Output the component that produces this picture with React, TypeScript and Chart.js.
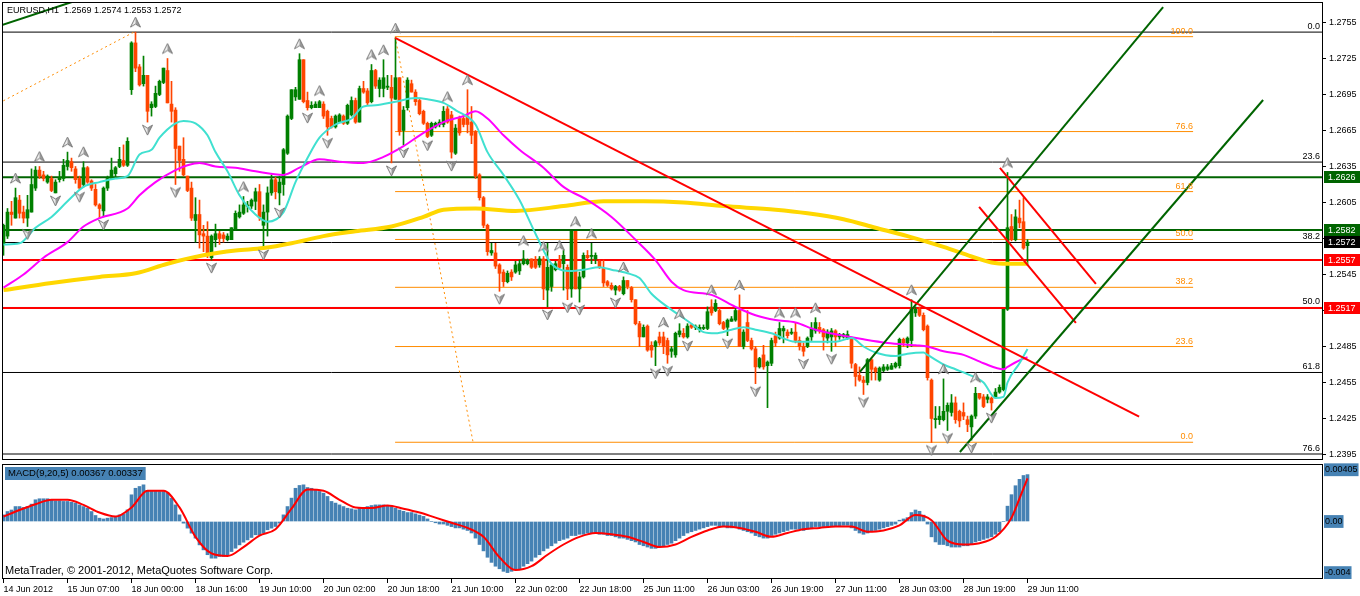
import { useEffect, useRef } from 'react';
import { Chart, registerables } from 'chart.js';

Chart.register(...registerables);

// ---------------- data ----------------
const SYMBOL = 'EURUSD,H1';
const COPYRIGHT = 'MetaTrader, \u00a9 2001-2012, MetaQuotes Software Corp.';
const MACD_NAME = 'MACD(9,20,5)';

const timeLabels = [
  '14 Jun 2012', '15 Jun 07:00', '18 Jun 00:00', '18 Jun 16:00', '19 Jun 10:00', '20 Jun 02:00',
  '20 Jun 18:00', '21 Jun 10:00', '22 Jun 02:00', '22 Jun 18:00', '25 Jun 11:00', '26 Jun 03:00',
  '26 Jun 19:00', '27 Jun 11:00', '28 Jun 03:00', '28 Jun 19:00', '29 Jun 11:00',
];
const LABEL_STEP = 16; // bars between time labels

const opens = [
  1.2570, 1.2577, 1.2597, 1.2592, 1.2607, 1.2597, 1.2592, 1.2597, 1.2617, 1.2632, 1.2628, 1.2622, 1.2625, 1.2613, 1.2624, 1.2625,
  1.2635, 1.2639, 1.2633, 1.2625, 1.2620, 1.2634, 1.2623, 1.2616, 1.2603, 1.2598, 1.2617, 1.2625, 1.2629, 1.2635, 1.2640, 1.2636,
  1.2699, 1.2738, 1.2718, 1.2704, 1.2711, 1.2684, 1.2685, 1.2695, 1.2705, 1.2715, 1.2687, 1.2682, 1.2652, 1.2641, 1.2627, 1.2617,
  1.2590, 1.2595, 1.2579, 1.2577, 1.2559, 1.2574, 1.2579, 1.2578, 1.2574, 1.2574, 1.2583, 1.2593, 1.2596, 1.2602, 1.2602, 1.2606,
  1.2614, 1.2586, 1.2597, 1.2613, 1.2624, 1.2613, 1.2620, 1.2646, 1.2675, 1.2693, 1.2691, 1.2724, 1.2690, 1.2684, 1.2684, 1.2684,
  1.2687, 1.2681, 1.2675, 1.2668, 1.2672, 1.2677, 1.2671, 1.2678, 1.2690, 1.2672, 1.2700, 1.2698, 1.2689, 1.2715, 1.2700, 1.2700,
  1.2701, 1.2701, 1.2691, 1.2709, 1.2665, 1.2684, 1.2704, 1.2697, 1.2690, 1.2681, 1.2671, 1.2661, 1.2668, 1.2670, 1.2670, 1.2683,
  1.2678, 1.2646, 1.2675, 1.2675, 1.2677, 1.2672, 1.2664, 1.2628, 1.2609, 1.2586, 1.2563, 1.2563, 1.2553, 1.2547, 1.2539, 1.2547,
  1.2547, 1.2548, 1.2554, 1.2554, 1.2558, 1.2557, 1.2553, 1.2558, 1.2532, 1.2535, 1.2549, 1.2557, 1.2554, 1.2551, 1.2533, 1.2581,
  1.2533, 1.2543, 1.2561, 1.2560, 1.2558, 1.2556, 1.2550, 1.2539, 1.2536, 1.2532, 1.2535, 1.2529, 1.2540, 1.2534, 1.2524, 1.2504,
  1.2493, 1.2502, 1.2486, 1.2485, 1.2493, 1.2493, 1.2490, 1.2481, 1.2478, 1.2495, 1.2496, 1.2493, 1.2503, 1.2501, 1.2499, 1.2500,
  1.2500, 1.2518, 1.2515, 1.2515, 1.2505, 1.2501, 1.2506, 1.2507, 1.2515, 1.2485, 1.2505, 1.2490, 1.2483, 1.2468, 1.2478, 1.2469,
  1.2471, 1.2494, 1.2492, 1.2498, 1.2497, 1.2496, 1.2497, 1.2490, 1.2485, 1.2485, 1.2493, 1.2498, 1.2501, 1.2499, 1.2492, 1.2493,
  1.2498, 1.2493, 1.2493, 1.2492, 1.2492, 1.2470, 1.2461, 1.2457, 1.2455, 1.2474, 1.2467, 1.2457, 1.2465, 1.2466, 1.2466, 1.2468,
  1.2469, 1.2491, 1.2488, 1.2490, 1.2513, 1.2516, 1.2511, 1.2502, 1.2457, 1.2424, 1.2424, 1.2424, 1.2431, 1.2430, 1.2438, 1.2431,
  1.2430, 1.2424, 1.2418, 1.2427, 1.2446, 1.2443, 1.2441, 1.2442, 1.2443, 1.2447, 1.2449, 1.2516, 1.2585, 1.2574, 1.2592, 1.2589,
  1.2569,
];
const highs = [
  1.2587, 1.2600, 1.2606, 1.2617, 1.2611, 1.2602, 1.2611, 1.2633, 1.2635, 1.2635, 1.2631, 1.2628, 1.2627, 1.2624, 1.2631, 1.2641,
  1.2647, 1.2642, 1.2635, 1.2627, 1.2639, 1.2635, 1.2624, 1.2620, 1.2604, 1.2618, 1.2627, 1.2642, 1.2635, 1.2651, 1.2653, 1.2659,
  1.2739, 1.2747, 1.2720, 1.2727, 1.2711, 1.2689, 1.2702, 1.2707, 1.2717, 1.2725, 1.2706, 1.2684, 1.2652, 1.2659, 1.2627, 1.2622,
  1.2609, 1.2607, 1.2586, 1.2589, 1.2578, 1.2587, 1.2581, 1.2580, 1.2579, 1.2584, 1.2598, 1.2603, 1.2610, 1.2606, 1.2608, 1.2617,
  1.2620, 1.2603, 1.2618, 1.2628, 1.2626, 1.2627, 1.2650, 1.2678, 1.2699, 1.2701, 1.2729, 1.2724, 1.2697, 1.2689, 1.2689, 1.2690,
  1.2689, 1.2682, 1.2677, 1.2678, 1.2679, 1.2678, 1.2687, 1.2693, 1.2692, 1.2702, 1.2706, 1.2700, 1.2720, 1.2716, 1.2709, 1.2724,
  1.2711, 1.2711, 1.2742, 1.2709, 1.2685, 1.2709, 1.2707, 1.2699, 1.2692, 1.2682, 1.2672, 1.2672, 1.2672, 1.2674, 1.2685, 1.2685,
  1.2681, 1.2670, 1.2677, 1.2678, 1.2699, 1.2685, 1.2665, 1.2629, 1.2610, 1.2587, 1.2571, 1.2571, 1.2554, 1.2549, 1.2548, 1.2549,
  1.2556, 1.2557, 1.2565, 1.2558, 1.2558, 1.2560, 1.2560, 1.2560, 1.2571, 1.2554, 1.2556, 1.2561, 1.2565, 1.2553, 1.2581, 1.2581,
  1.2547, 1.2563, 1.2565, 1.2571, 1.2563, 1.2557, 1.2557, 1.2540, 1.2538, 1.2536, 1.2536, 1.2543, 1.2540, 1.2535, 1.2524, 1.2506,
  1.2503, 1.2503, 1.2489, 1.2490, 1.2497, 1.2497, 1.2492, 1.2485, 1.2497, 1.2504, 1.2500, 1.2504, 1.2504, 1.2503, 1.2503, 1.2503,
  1.2518, 1.2524, 1.2524, 1.2517, 1.2506, 1.2508, 1.2510, 1.2517, 1.2528, 1.2499, 1.2515, 1.2492, 1.2485, 1.2476, 1.2486, 1.2473,
  1.2492, 1.2497, 1.2505, 1.2502, 1.2499, 1.2500, 1.2505, 1.2493, 1.2488, 1.2493, 1.2505, 1.2509, 1.2505, 1.2500, 1.2499, 1.2500,
  1.2499, 1.2496, 1.2496, 1.2498, 1.2493, 1.2471, 1.2468, 1.2460, 1.2475, 1.2475, 1.2468, 1.2468, 1.2470, 1.2470, 1.2471, 1.2472,
  1.2492, 1.2492, 1.2493, 1.2524, 1.2518, 1.2518, 1.2513, 1.2503, 1.2458, 1.2435, 1.2435, 1.2458, 1.2438, 1.2445, 1.2443, 1.2432,
  1.2438, 1.2427, 1.2428, 1.2451, 1.2446, 1.2445, 1.2445, 1.2443, 1.2450, 1.2453, 1.2516, 1.2630, 1.2595, 1.2599, 1.2607, 1.2609,
  1.2574,
];
const lows = [
  1.2561, 1.2575, 1.2586, 1.2592, 1.2592, 1.2588, 1.2585, 1.2597, 1.2615, 1.2625, 1.2623, 1.2621, 1.2614, 1.2613, 1.2622, 1.2623,
  1.2632, 1.2631, 1.2621, 1.2616, 1.2618, 1.2621, 1.2615, 1.2602, 1.2592, 1.2593, 1.2615, 1.2624, 1.2625, 1.2634, 1.2635, 1.2635,
  1.2695, 1.2714, 1.2702, 1.2702, 1.2672, 1.2677, 1.2684, 1.2694, 1.2704, 1.2688, 1.2672, 1.2620, 1.2631, 1.2627, 1.2614, 1.2590,
  1.2572, 1.2567, 1.2564, 1.2559, 1.2557, 1.2568, 1.2570, 1.2572, 1.2573, 1.2574, 1.2582, 1.2592, 1.2595, 1.2597, 1.2600, 1.2599,
  1.2590, 1.2568, 1.2577, 1.2611, 1.2608, 1.2603, 1.2611, 1.2645, 1.2674, 1.2690, 1.2691, 1.2688, 1.2682, 1.2683, 1.2684, 1.2684,
  1.2675, 1.2661, 1.2667, 1.2667, 1.2672, 1.2670, 1.2670, 1.2677, 1.2671, 1.2672, 1.2696, 1.2686, 1.2688, 1.2700, 1.2693, 1.2693,
  1.2699, 1.2638, 1.2691, 1.2661, 1.2653, 1.2682, 1.2697, 1.2686, 1.2678, 1.2670, 1.2659, 1.2660, 1.2667, 1.2668, 1.2668, 1.2671,
  1.2642, 1.2645, 1.2661, 1.2668, 1.2663, 1.2654, 1.2625, 1.2607, 1.2584, 1.2561, 1.2561, 1.2550, 1.2531, 1.2535, 1.2538, 1.2540,
  1.2546, 1.2545, 1.2553, 1.2553, 1.2550, 1.2550, 1.2551, 1.2524, 1.2518, 1.2531, 1.2548, 1.2550, 1.2532, 1.2524, 1.2526, 1.2533,
  1.2522, 1.2542, 1.2558, 1.2554, 1.2554, 1.2550, 1.2535, 1.2535, 1.2532, 1.2528, 1.2531, 1.2528, 1.2533, 1.2522, 1.2503, 1.2485,
  1.2493, 1.2481, 1.2476, 1.2469, 1.2486, 1.2479, 1.2471, 1.2476, 1.2476, 1.2493, 1.2492, 1.2492, 1.2500, 1.2499, 1.2497, 1.2499,
  1.2499, 1.2511, 1.2514, 1.2503, 1.2499, 1.2494, 1.2506, 1.2506, 1.2485, 1.2483, 1.2489, 1.2482, 1.2454, 1.2467, 1.2466, 1.2434,
  1.2469, 1.2485, 1.2491, 1.2488, 1.2492, 1.2495, 1.2488, 1.2482, 1.2477, 1.2484, 1.2490, 1.2496, 1.2496, 1.2482, 1.2488, 1.2481,
  1.2485, 1.2491, 1.2492, 1.2491, 1.2467, 1.2452, 1.2456, 1.2445, 1.2453, 1.2457, 1.2457, 1.2456, 1.2464, 1.2465, 1.2466, 1.2467,
  1.2467, 1.2485, 1.2484, 1.2485, 1.2510, 1.2510, 1.2498, 1.2457, 1.2405, 1.2417, 1.2420, 1.2423, 1.2415, 1.2427, 1.2421, 1.2418,
  1.2424, 1.2414, 1.2407, 1.2425, 1.2441, 1.2434, 1.2438, 1.2432, 1.2442, 1.2446, 1.2448, 1.2515, 1.2573, 1.2573, 1.2584, 1.2566,
  1.2553,
];
const closes = [
  1.2586, 1.2597, 1.2595, 1.2609, 1.2596, 1.2592, 1.2599, 1.2620, 1.2632, 1.2627, 1.2625, 1.2627, 1.2615, 1.2622, 1.2626, 1.2636,
  1.2640, 1.2634, 1.2624, 1.2617, 1.2634, 1.2622, 1.2617, 1.2603, 1.2600, 1.2617, 1.2625, 1.2632, 1.2634, 1.2641, 1.2636, 1.2656,
  1.2738, 1.2717, 1.2703, 1.2711, 1.2681, 1.2687, 1.2696, 1.2706, 1.2717, 1.2688, 1.2681, 1.2650, 1.2640, 1.2628, 1.2615, 1.2592,
  1.2595, 1.2578, 1.2577, 1.2561, 1.2577, 1.2579, 1.2575, 1.2575, 1.2577, 1.2584, 1.2596, 1.2597, 1.2603, 1.2603, 1.2607, 1.2614,
  1.2593, 1.2597, 1.2613, 1.2624, 1.2614, 1.2622, 1.2649, 1.2677, 1.2699, 1.2699, 1.2724, 1.2689, 1.2684, 1.2686, 1.2687, 1.2689,
  1.2677, 1.2668, 1.2668, 1.2677, 1.2678, 1.2671, 1.2686, 1.2690, 1.2672, 1.2700, 1.2697, 1.2688, 1.2715, 1.2702, 1.2707, 1.2709,
  1.2702, 1.2692, 1.2709, 1.2664, 1.2682, 1.2707, 1.2697, 1.2689, 1.2679, 1.2671, 1.2660, 1.2671, 1.2671, 1.2672, 1.2681, 1.2672,
  1.2647, 1.2667, 1.2663, 1.2670, 1.2670, 1.2661, 1.2627, 1.2609, 1.2586, 1.2564, 1.2565, 1.2552, 1.2546, 1.2539, 1.2546, 1.2543,
  1.2553, 1.2554, 1.2558, 1.2557, 1.2551, 1.2551, 1.2558, 1.2533, 1.2551, 1.2553, 1.2554, 1.2551, 1.2561, 1.2533, 1.2581, 1.2533,
  1.2543, 1.2561, 1.2559, 1.2561, 1.2561, 1.2551, 1.2538, 1.2536, 1.2533, 1.2535, 1.2532, 1.2540, 1.2535, 1.2524, 1.2504, 1.2493,
  1.2501, 1.2482, 1.2482, 1.2489, 1.2488, 1.2485, 1.2478, 1.2483, 1.2496, 1.2498, 1.2493, 1.2502, 1.2501, 1.2502, 1.2501, 1.2501,
  1.2514, 1.2513, 1.2521, 1.2504, 1.2500, 1.2507, 1.2508, 1.2515, 1.2485, 1.2497, 1.2490, 1.2483, 1.2468, 1.2475, 1.2468, 1.2472,
  1.2490, 1.2488, 1.2500, 1.2500, 1.2494, 1.2497, 1.2490, 1.2485, 1.2481, 1.2492, 1.2500, 1.2505, 1.2498, 1.2493, 1.2497, 1.2498,
  1.2493, 1.2495, 1.2495, 1.2495, 1.2471, 1.2460, 1.2457, 1.2455, 1.2474, 1.2466, 1.2464, 1.2467, 1.2468, 1.2468, 1.2469, 1.2471,
  1.2491, 1.2488, 1.2492, 1.2516, 1.2516, 1.2511, 1.2499, 1.2459, 1.2425, 1.2425, 1.2427, 1.2431, 1.2436, 1.2438, 1.2424, 1.2423,
  1.2427, 1.2420, 1.2427, 1.2446, 1.2442, 1.2435, 1.2443, 1.2438, 1.2447, 1.2451, 1.2516, 1.2584, 1.2574, 1.2593, 1.2588, 1.2567,
  1.2572,
];

// moving averages, read as [bar, price]
const maFast: [number, number][] = [
  [0, 1.2570], [4, 1.2571], [8, 1.2584], [12, 1.2593], [16, 1.2606], [20, 1.2618], [24, 1.2622], [28, 1.2625], [31, 1.2627],
  [34, 1.2645], [37, 1.2649], [39, 1.2659], [43, 1.2671], [45, 1.2673], [48, 1.2671], [51, 1.2661], [53, 1.2647], [56, 1.2631],
  [59, 1.2611], [63, 1.2595], [66, 1.2589], [70, 1.2597], [73, 1.2622], [76, 1.2642], [79, 1.2659], [83, 1.2670], [87, 1.2675],
  [90, 1.2685], [93, 1.2686], [98, 1.2689], [103, 1.2692], [106, 1.2691], [110, 1.2688], [113, 1.2682], [118, 1.2670],
  [121, 1.2647], [125, 1.2628], [129, 1.2607], [133, 1.2579], [137, 1.2554], [142, 1.2548], [145, 1.2549], [149, 1.2551],
  [152, 1.2549], [156, 1.2546], [159, 1.2542], [162, 1.2529], [166, 1.2518], [169, 1.2511], [172, 1.2504], [175, 1.2497],
  [178, 1.2496], [182, 1.2499], [185, 1.2501], [188, 1.2499], [192, 1.2496], [198, 1.2489], [203, 1.2489], [208, 1.2489],
  [212, 1.2492], [215, 1.2485], [218, 1.2480], [223, 1.2477], [226, 1.2479], [230, 1.2480], [231, 1.2478], [235, 1.2470],
  [238, 1.2466], [241, 1.2462], [245, 1.2455], [248, 1.2442], [250, 1.2443], [251, 1.2455], [254, 1.2471], [256, 1.2483],
];
const maMid: [number, number][] = [
  [0, 1.2534], [5, 1.2545], [10, 1.2559], [16, 1.2572], [20, 1.2585], [24, 1.2592], [31, 1.2600], [34, 1.2611], [38, 1.2622],
  [43, 1.2632], [46, 1.2636], [49, 1.2638], [53, 1.2635], [58, 1.2634], [63, 1.2631], [70, 1.2628], [74, 1.2634], [79, 1.2641],
  [84, 1.2639], [90, 1.2638], [95, 1.2643], [100, 1.2652], [105, 1.2663], [110, 1.2672], [115, 1.2677], [118, 1.2681],
  [121, 1.2675], [125, 1.2661], [129, 1.2649], [135, 1.2634], [140, 1.2618], [146, 1.2607], [152, 1.2593], [158, 1.2574],
  [163, 1.2557], [167, 1.2539], [170, 1.2532], [177, 1.2528], [183, 1.2518], [188, 1.2511], [193, 1.2507], [198, 1.2505],
  [203, 1.2499], [210, 1.2494], [215, 1.2491], [221, 1.2488], [228, 1.2486], [231, 1.2485], [235, 1.2481], [240, 1.2478],
  [245, 1.2471], [250, 1.2466], [251, 1.2468], [255, 1.2475], [256, 1.2476],
];
const maSlow: [number, number][] = [
  [0, 1.2532], [12, 1.2538], [24, 1.2543], [33, 1.2546], [41, 1.2554], [50, 1.2561], [58, 1.2565], [65, 1.2567], [72, 1.2571],
  [80, 1.2577], [88, 1.2581], [97, 1.2585], [105, 1.2593], [110, 1.2599], [118, 1.2600], [128, 1.2598], [140, 1.2602],
  [150, 1.2606], [160, 1.2606], [170, 1.2605], [180, 1.2602], [193, 1.2599], [201, 1.2596], [210, 1.2591], [218, 1.2584],
  [226, 1.2577], [235, 1.2568], [242, 1.2560], [247, 1.2555], [251, 1.2554], [256, 1.2554],
];

// MACD main (histogram) per bar, in units of 0.0001
const macdPips = [
  5.2, 7.8, 9, 11.7, 11.7, 11, 11.7, 13.6, 17, 17.8, 17.8, 17.8, 17, 16.2, 16.2, 15.7,
  15.7, 15.1, 14.4, 13, 11.7, 10.4, 7.8, 4.7, 2.6, 2, 2.6, 3.1, 3.9, 5.2, 5.7, 9.1,
  20.9, 26, 27.4, 28.7, 24, 24, 24, 23.5, 23.5, 22.2, 18.3, 13, 5.2, -1.3, -5.2, -9.1,
  -13, -18.3, -22.2, -26, -28.7, -28.7, -27.4, -27.4, -26, -23.5, -20.9, -18.3, -16.2, -14.4, -12.5, -10.4,
  -10.4, -9.1, -6.5, -5.2, -3.9, -1.3, 5.2, 11.7, 18.3, 26, 28.2, 28.7, 26.6, 26, 24.8, 23.5,
  22.2, 19.6, 15.7, 14.4, 13, 11.7, 10.4, 9.9, 9.1, 10.4, 11, 11.7, 12.5, 13, 13, 13,
  12.5, 11.7, 10.4, 9, 8, 7, 7, 6, 5, 4, 2, 0, -1, -2, -2, -3,
  -4, -5, -5, -6, -7, -9, -13, -18, -23, -28, -32, -35, -37, -39, -40, -39,
  -38, -37, -35, -33, -31, -28, -26, -23, -21, -19, -17, -15, -14, -13, -11, -11,
  -10, -10, -9, -9, -9, -10, -10, -11, -11, -12, -13, -13, -14, -15, -16, -18,
  -19, -20, -21, -21, -20, -19, -18, -17, -15, -13, -11, -9, -8, -7, -6, -5,
  -4, -3, -3, -4, -4, -5, -5, -4, -6, -7, -8, -9, -11, -12, -13, -13,
  -11, -10, -9, -8, -7, -6, -6, -6, -7, -6, -5, -4, -4, -4, -4, -4,
  -4, -4, -3, -3, -5, -7, -9, -10, -9, -8, -7, -6, -5, -4, -3, -2,
  1, 2, 3, 7, 9, 8, 5, -2, -12, -16, -18, -18, -19, -20, -20, -20,
  -19, -19, -18, -16, -15, -14, -13, -12, -10, -8, 0, 12, 21, 28, 33, 36,
  36.7,
];
// MACD signal line, [bar, value in 0.0001]
const macdSignal: [number, number][] = [
  [0, 3.9], [4, 9], [8, 13.5], [12, 17], [16, 17], [20, 13], [24, 7], [28, 3.9], [32, 11], [36, 24], [40, 24], [44, 11],
  [48, -12], [52, -25], [56, -27], [60, -20], [64, -11], [68, -6], [72, 10], [76, 25], [80, 24], [84, 17], [88, 11],
  [92, 10.5], [96, 12.5], [100, 10], [104, 7], [108, 3], [112, -1], [116, -5], [120, -12], [124, -28], [128, -38],
  [132, -35], [136, -26], [140, -18], [144, -12], [148, -9], [152, -10], [156, -12], [160, -16], [164, -20], [168, -18],
  [172, -12], [176, -7], [180, -4], [184, -5], [188, -8], [192, -12], [196, -9], [200, -6], [204, -5], [208, -4],
  [212, -4], [216, -8], [220, -7], [224, -3], [228, 5], [232, 1], [236, -15], [240, -18], [244, -17], [248, -12],
  [252, 3], [254, 18], [256, 33.7],
];

const priceTicks = [1.2755, 1.2725, 1.2695, 1.2665, 1.2635, 1.2605, 1.2575, 1.2545, 1.2515, 1.2485, 1.2455, 1.2425, 1.2395];
const macdTicks = [40.5, 0, -40];
const macdTickLabels = ['0.00405', '0.00', '-0.004'];

const fractalUp = [3, 9, 16, 20, 33, 41, 60, 74, 79, 92, 95, 98, 111, 116, 130, 135, 139, 143, 147, 155, 165, 169, 177, 184, 194, 198, 203, 227, 235, 243, 251];
const fractalDown = [6, 13, 19, 25, 36, 43, 52, 65, 69, 76, 81, 97, 100, 106, 112, 124, 136, 141, 144, 153, 163, 166, 171, 181, 188, 200, 207, 215, 232, 236, 242, 247];

const greenLevels = [1.2626, 1.2582];
const redLevels = [1.2557, 1.2517];

// Fibonacci objects: [start bar, price], [end bar, price]; 0% at end point, 100% at start point
const blackFibAnchors: [number, number][] = [[-229, 1.2288], [32.6, 1.2747]];
const blackFibLevels = [0, 23.6, 38.2, 50, 61.8, 76.6];
const orangeFibAnchors: [number, number][] = [[97.9, 1.27432], [117.4, 1.24052]];
const orangeFibLevels = [0, 23.6, 38.2, 50, 61.8, 76.6, 100];
const orangeFibEndBar = 297.4;

// trend lines: [bar, price] pairs
const redTrend: [number, number][] = [[97.9, 1.27421], [283.9, 1.24265]];
const greenChannel: [number, number][][] = [
  [[214.1, 1.24638], [289.9, 1.27679]],
  [[239.1, 1.23971], [314.9, 1.26904]],
  [[-0.4, 1.27529], [17.1, 1.27721]],
];
const redChannel: [number, number][][] = [
  [[249.1, 1.26338], [273.1, 1.25371]],
  [[243.9, 1.26013], [268.1, 1.25046]],
];

// axis ranges
const barAxisRange = [-0.375, 329.625];
const priceAxisRange = [1.2387083, 1.2772083];
const macdAxisRange = [-45, 45];

// ---------------- styling ----------------
const FONT = '"Liberation Sans", Arial, sans-serif';
const BULL = '#008000';
const BEAR = '#FF4500';
const DARK_GREEN = '#006400';
const RED = '#FF0000';
const ORANGE = '#FF8C00';
const STEEL = '#4682B4';
const PANEL_GAP = 5;

const fibPrice = (a: [number, number][], level: number) => a[1][1] + (a[0][1] - a[1][1]) * level / 100;

function makeFractalIcon(up: boolean): HTMLCanvasElement {
  const w = 13, h = 40;
  const c = document.createElement('canvas');
  c.width = w; c.height = h;
  const g = c.getContext('2d')!;
  g.translate(6.5, up ? h / 2 - 10 : h / 2 + 8);
  if (!up) g.scale(1, -1);
  g.lineWidth = 1;
  g.beginPath();
  g.moveTo(0, -5); g.lineTo(0, 2); g.lineTo(-5, 5); g.closePath();
  g.fillStyle = '#EDEDED'; g.fill();
  g.beginPath();
  g.moveTo(0, -5); g.lineTo(5, 5); g.lineTo(0, 2); g.closePath();
  g.fillStyle = '#9A9A9A'; g.fill();
  g.beginPath();
  g.moveTo(0, -5); g.lineTo(5, 5); g.lineTo(0, 2); g.lineTo(-5, 5); g.closePath();
  g.strokeStyle = '#7A7A7A'; g.stroke();
  return c;
}

const seg = (pts: [number, number][], color: string, width: number, order: number, dash: number[] = []) => ({
  type: 'line',
  data: pts.map(([x, y]) => ({ x, y })),
  borderColor: color,
  borderWidth: width,
  borderDash: dash,
  pointRadius: 0,
  fill: false,
  tension: 0,
  order,
  xAxisID: 'x',
  yAxisID: 'y',
});

const maLine = (pts: [number, number][], color: string, width: number, order: number, axis = 'y') => ({
  type: 'line',
  data: pts.map(([x, y]) => ({ x, y })),
  borderColor: color,
  borderWidth: width,
  pointRadius: 0,
  fill: false,
  cubicInterpolationMode: 'monotone',
  order,
  xAxisID: 'x',
  yAxisID: axis,
});

const overlayPlugin = {
  id: 'mtOverlay',
  afterDraw(chart: any) {
    const ctx = chart.ctx;
    const area = chart.chartArea;
    const xs = chart.scales.x;
    const ys = chart.scales.y;
    const ms = chart.scales.yMacd;
    const last = closes.length - 1;
    ctx.save();

    // fib level labels
    ctx.font = `9px ${FONT}`;
    ctx.textBaseline = 'bottom';
    ctx.textAlign = 'right';
    ctx.fillStyle = '#000';
    blackFibLevels.forEach((lv) => {
      const py = ys.getPixelForValue(fibPrice(blackFibAnchors, lv));
      ctx.fillText(lv.toFixed(1), area.right - 2, py - 1);
    });
    ctx.fillStyle = ORANGE;
    const ox = xs.getPixelForValue(orangeFibEndBar);
    orangeFibLevels.forEach((lv) => {
      const py = ys.getPixelForValue(fibPrice(orangeFibAnchors, lv));
      ctx.fillText(lv.toFixed(1), ox, py - 1);
    });

    // panel borders
    ctx.strokeStyle = '#000';
    ctx.lineWidth = 1;
    const mainBottom = ys.bottom - PANEL_GAP;
    ctx.clearRect(area.left, mainBottom + 1, area.right - area.left + 1, ms.top - mainBottom - 1);
    ctx.strokeRect(area.left + 0.5, area.top + 0.5, area.right - area.left, mainBottom - area.top);
    ctx.strokeRect(area.left + 0.5, ms.top + 0.5, area.right - area.left, ms.bottom - ms.top - 1);

    // header
    ctx.textAlign = 'left';
    ctx.textBaseline = 'middle';
    ctx.fillStyle = '#000';
    ctx.font = `9px ${FONT}`;
    const f4 = (v: number) => v.toFixed(4);
    ctx.fillText(`${SYMBOL}  ${f4(opens[last])} ${f4(highs[last])} ${f4(lows[last])} ${f4(closes[last])}`, area.left + 5, area.top + 8.5);

    // MACD title box
    const sigLast = macdSignal[macdSignal.length - 1][1];
    const title = `${MACD_NAME} ${(macdPips[last] / 10000).toFixed(5)} ${(sigLast / 10000).toFixed(5)}`;
    ctx.font = `9.5px ${FONT}`;
    const tw = ctx.measureText(title).width;
    ctx.fillStyle = STEEL;
    ctx.fillRect(area.left + 3, ms.top + 3, tw + 6, 13);
    ctx.fillStyle = '#000';
    ctx.fillText(title, area.left + 6, ms.top + 9.5);

    // footer
    ctx.font = `11px ${FONT}`;
    ctx.fillText(COPYRIGHT, area.left + 3, ms.bottom - 8);

    // right axis level boxes
    ctx.font = `9px ${FONT}`;
    const box = (price: number, bg: string, fg: string) => {
      const py = ys.getPixelForValue(price);
      const x0 = area.right + 2;
      ctx.fillStyle = bg;
      ctx.fillRect(x0, Math.round(py - 6), chart.width - x0, 12);
      ctx.fillStyle = fg;
      ctx.fillText(price.toFixed(4), x0 + 4, py + 0.5);
    };
    greenLevels.forEach((p) => box(p, DARK_GREEN, '#fff'));
    box(closes[last], '#000', '#fff');
    redLevels.forEach((p) => box(p, RED, '#fff'));
    ctx.restore();
  },
};

export default function App() {
  const ref = useRef<HTMLCanvasElement>(null);

  useEffect(() => {
    document.body.style.margin = '0';
    const canvas = ref.current;
    if (!canvas) return;

    const bars = opens.map((_, i) => i);
    const colors = bars.map((i) => (closes[i] >= opens[i] ? BULL : BEAR));
    const upIcon = makeFractalIcon(true);
    const downIcon = makeFractalIcon(false);
    const [xMin, xMax] = barAxisRange;

    const datasets: any[] = [];

    // fib levels and diagonals
    blackFibLevels.forEach((lv) => {
      const p = fibPrice(blackFibAnchors, lv);
      datasets.push(seg([[blackFibAnchors[0][0], p], [xMax + 1, p]], '#000', 1, 100));
    });
    orangeFibLevels.forEach((lv) => {
      const p = fibPrice(orangeFibAnchors, lv);
      datasets.push(seg([[orangeFibAnchors[0][0], p], [orangeFibEndBar, p]], ORANGE, 1, 100));
    });
    datasets.push(seg(blackFibAnchors, ORANGE, 1, 99, [2, 3]));
    datasets.push(seg(orangeFibAnchors, ORANGE, 1, 99, [2, 3]));

    // horizontal levels
    greenLevels.forEach((p) => datasets.push(seg([[xMin - 1, p], [xMax + 1, p]], DARK_GREEN, 2, 90)));
    redLevels.forEach((p) => datasets.push(seg([[xMin - 1, p], [xMax + 1, p]], RED, 2, 90)));

    // candles
    datasets.push({
      type: 'bar', data: bars.map((i) => ({ x: i, y: [lows[i], highs[i]] })),
      backgroundColor: colors, barThickness: 1, grouped: false, borderWidth: 0, order: 60,
      xAxisID: 'x', yAxisID: 'y',
    });
    datasets.push({
      type: 'bar', data: bars.map((i) => ({ x: i, y: [opens[i], closes[i]] })),
      backgroundColor: colors, barThickness: 3, minBarLength: 1, grouped: false, borderWidth: 0, order: 59,
      xAxisID: 'x', yAxisID: 'y',
    });

    // moving averages
    datasets.push(maLine(maSlow, '#FFD700', 4, 42));
    datasets.push(maLine(maMid, '#FF00FF', 2, 41));
    datasets.push(maLine(maFast, '#40E0D0', 2, 40));

    // trend lines
    datasets.push(seg(redTrend, RED, 2, 30));
    greenChannel.forEach((l) => datasets.push(seg(l, DARK_GREEN, 2, 30)));
    redChannel.forEach((l) => datasets.push(seg(l, RED, 2, 30)));

    // fractals
    datasets.push({
      type: 'line', showLine: false, data: fractalUp.map((i) => ({ x: i, y: highs[i] })),
      pointStyle: upIcon, pointRadius: 5, order: 20, xAxisID: 'x', yAxisID: 'y',
    });
    datasets.push({
      type: 'line', showLine: false, data: fractalDown.map((i) => ({ x: i, y: lows[i] })),
      pointStyle: downIcon, pointRadius: 5, order: 20, xAxisID: 'x', yAxisID: 'y',
    });

    // MACD
    datasets.push({
      type: 'bar', data: bars.map((i) => ({ x: i, y: macdPips[i] })),
      backgroundColor: STEEL, barThickness: 3, grouped: false, borderWidth: 0, order: 60,
      xAxisID: 'x', yAxisID: 'yMacd',
    });
    datasets.push(maLine(macdSignal, RED, 2, 40, 'yMacd'));

    const tickFont = { family: FONT, size: 9 };

    const chart = new Chart(canvas, {
      type: 'line',
      data: { datasets },
      plugins: [overlayPlugin],
      options: {
        responsive: false,
        animation: false,
        devicePixelRatio: 1,
        events: [],
        layout: { autoPadding: false, padding: { left: 2, top: 2, right: 0, bottom: 0 } },
        plugins: { legend: { display: false }, tooltip: { enabled: false }, title: { display: false } },
        scales: {
          x: {
            type: 'linear', position: 'bottom', min: xMin, max: xMax, offset: false,
            grid: { drawOnChartArea: false, drawTicks: true, tickLength: 4, color: '#000', offset: false },
            border: { display: false },
            ticks: {
              autoSkip: false, maxRotation: 0, minRotation: 0, align: 'start', padding: 1, color: '#000', font: tickFont,
              callback: (v: any) => timeLabels[Math.round(Number(v) / LABEL_STEP)] ?? '',
            },
            afterBuildTicks: (s: any) => { s.ticks = timeLabels.map((_, k) => ({ value: k * LABEL_STEP })); },
            afterFit: (s: any) => { s.height = 17; s.paddingLeft = 0; s.paddingRight = 0; },
          },
          y: {
            type: 'linear', position: 'right', stack: 'panes', stackWeight: 462, weight: 0,
            min: priceAxisRange[0], max: priceAxisRange[1],
            grid: { drawOnChartArea: false, drawTicks: true, tickLength: 4, color: '#000' },
            border: { display: false },
            ticks: { autoSkip: false, padding: 3, color: '#000', font: tickFont, callback: (v: any) => Number(v).toFixed(4) },
            afterBuildTicks: (s: any) => { s.ticks = priceTicks.map((v) => ({ value: v })); },
            afterFit: (s: any) => { s.width = 38; s.paddingTop = 0; s.paddingBottom = 0; },
          },
          yMacd: {
            type: 'linear', position: 'right', stack: 'panes', stackWeight: 115, weight: 1,
            min: macdAxisRange[0], max: macdAxisRange[1],
            grid: { drawOnChartArea: false, drawTicks: false, color: '#000' },
            border: { display: false },
            ticks: {
              autoSkip: false, padding: 3, color: '#000', font: tickFont,
              showLabelBackdrop: true, backdropColor: STEEL, backdropPadding: { top: 1, bottom: 1, left: 1, right: 1 },
              callback: (_v: any, i: number) => macdTickLabels[i] ?? '',
            },
            afterBuildTicks: (s: any) => { s.ticks = macdTicks.map((v) => ({ value: v })); },
            afterFit: (s: any) => { s.width = 38; s.paddingTop = 0; s.paddingBottom = 0; },
          },
        },
      } as any,
    } as any);

    return () => chart.destroy();
  }, []);

  return (
    <div style={{ width: 1360, height: 596, background: '#fff' }}>
      <canvas ref={ref} width={1360} height={596} style={{ display: 'block' }} />
    </div>
  );
}
